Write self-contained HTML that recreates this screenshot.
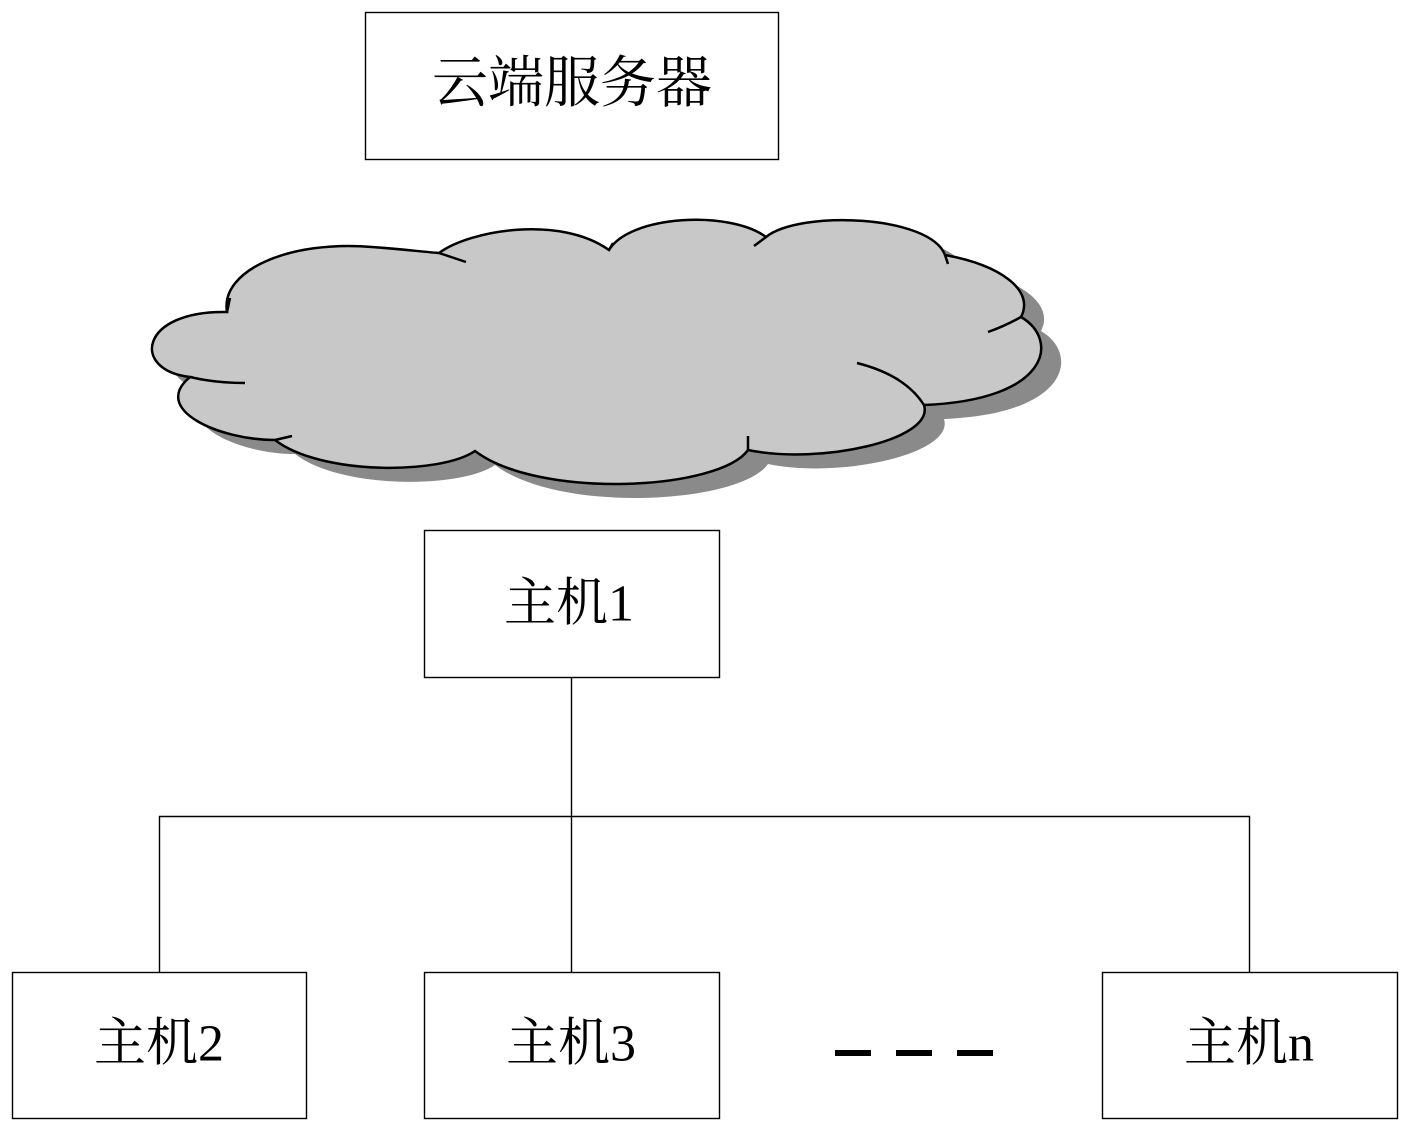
<!DOCTYPE html>
<html><head><meta charset="utf-8"><style>
body{margin:0;background:#fff;}
svg{display:block}
text{font-family:"Liberation Serif","Noto Serif CJK SC",serif;font-size:52px;fill:#000;text-anchor:middle;dominant-baseline:central}
</style></head><body>
<svg width="1411" height="1133" viewBox="0 0 1411 1133" xmlns="http://www.w3.org/2000/svg">
<defs>
<path id="cl" d="M227,312 C220,270 290,240 372,247 C400,249 425,252 439,253 C470,230 560,215 609,250 C630,215 730,210 766,237 C800,210 930,215 945,255 C1000,265 1035,290 1021,317 C1060,340 1050,400 924,405 C935,440 820,465 748,450 C720,490 540,500 475,451 C440,475 320,475 275,440 C220,440 150,410 190,377 C130,370 140,310 227,312 Z"/>
</defs>
<use href="#cl" transform="translate(20,14)" fill="#8a8a8a"/>
<use href="#cl" fill="#c8c8c8" stroke="#000" stroke-width="2.5"/>
<g fill="none" stroke="#000" stroke-width="2.5">
<path d="M439,253 L466,262"/>
<path d="M766,237 L754,246"/>
<path d="M945,255 L948,264"/>
<path d="M1021,317 Q1005,326 988,332"/>
<path d="M857,363 Q905,375 924,405"/>
<path d="M748,450 L748,436"/>
<path d="M275,440 L292,436"/>
<path d="M190,377 Q215,383 245,383"/>
<path d="M227,312 L230,298"/>
<path d="M609,250 L613,243"/>
</g>
<g fill="#fff" stroke="#000" stroke-width="1.4">
<rect x="365.5" y="12.5" width="413" height="147"/>
<rect x="424.5" y="530.5" width="295" height="147"/>
<rect x="12.5" y="972.5" width="294" height="146"/>
<rect x="424.5" y="972.5" width="295" height="146"/>
<rect x="1102.5" y="972.5" width="295" height="146"/>
</g>
<g fill="none" stroke="#000" stroke-width="1.4">
<path d="M571.5,677 V972"/>
<path d="M159.5,972 V816.5 H1249.5 V972"/>
</g>
<g fill="#000">
<rect x="835" y="1050" width="36" height="6"/>
<rect x="896" y="1050" width="36" height="6"/>
<rect x="957" y="1050" width="36" height="6"/>
</g>
<text x="572" y="84" style="font-size:56px">云端服务器</text>
<text x="569" y="604">主机1</text>
<text x="159" y="1044">主机2</text>
<text x="571" y="1044">主机3</text>
<text x="1249" y="1044">主机n</text>
</svg>
</body></html>
